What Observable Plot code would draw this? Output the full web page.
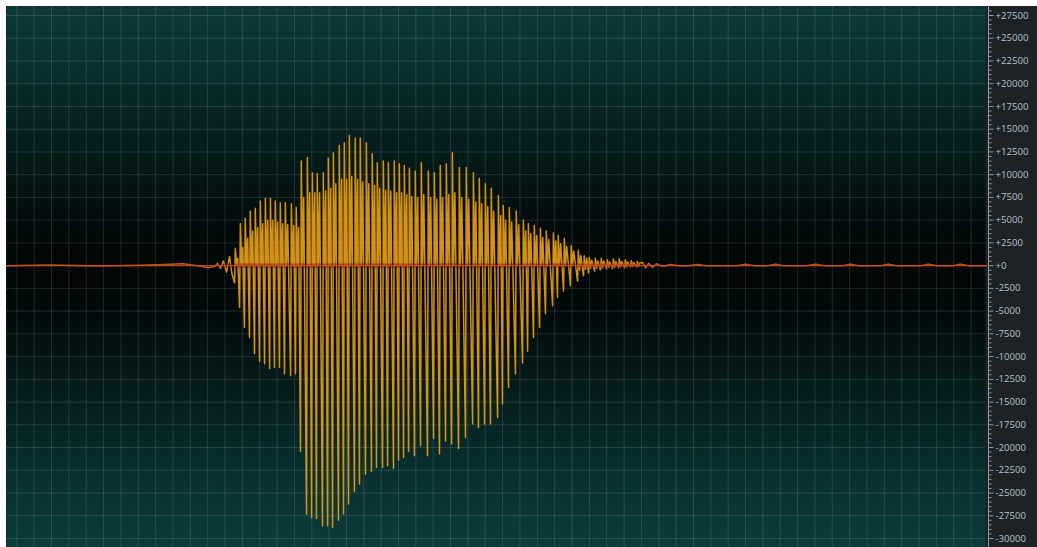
<!DOCTYPE html>
<html>
<head>
<meta charset="utf-8">
<script src="https://cdn.jsdelivr.net/npm/d3@7"></script>
<script src="https://cdn.jsdelivr.net/npm/@observablehq/plot@0.6"></script>
<style>
  html, body { margin: 0; padding: 0; background: #ffffff; }
  #chart { padding: 6px 0 0 6px; width: 1031px; height: 541px; }
  #chart svg { display: block; }
</style>
</head>
<body>
<div id="chart"></div>
<script>
// ---- Data (time in ms, amplitude in sample units) ----
// y-axis tick labels
const yTicks = [27500, 25000, 22500, 20000, 17500, 15000, 12500, 10000, 7500, 5000, 2500, 0,
  -2500, -5000, -7500, -10000, -12500, -15000, -17500, -20000, -22500, -25000, -27500, -30000];

// quiet lead-in before the voiced segment
const leadMs  = [-6, 19.4, 48.2, 71.3, 89.7, 95.5, 101.3, 110.5, 114.0, 115.7, 117.4, 119.1, 120.9, 122.6, 124.0];
const leadAmp = [0, 60, -40, 50, 150, 200, 80, -200, -100, 250, -300, 500, -700, 1000, -900];

// voiced segment: one entry per pitch period
const cycleMs = [
  125.5,128.4,131.2,134.1,137.0,139.9,142.8,145.7,148.5,151.4,
  154.3,157.8,160.6,163.5,167.0,169.9,172.7,176.2,179.1,182.0,
  185.4,188.3,191.2,194.6,197.5,201.0,204.4,207.3,210.8,213.7,
  217.1,220.0,222.9,225.8,229.2,232.7,236.7,240.2,243.6,247.1,
  250.6,254.6,258.6,262.7,266.1,269.6,273.0,277.1,279.9,283.4,
  287.4,291.5,294.4,297.8,301.3,304.7,308.8,311.6,315.1,319.1,
  323.2,326.6,329.5,333.0,336.4,339.9,343.4,346.8,350.3,353.7,357.2];
const troughs = [
  -1900,-4600,-6800,-7900,-9700,-10500,-10800,-11300,-11200,-11200,
  -11900,-12100,-11900,-20400,-27300,-27700,-27800,-28600,-28600,-28800,
  -28000,-27300,-26200,-24800,-24000,-22900,-22600,-22200,-22200,-22000,
  -22300,-21400,-21100,-20400,-20900,-19800,-20900,-19000,-20700,-19300,
  -19600,-20100,-18900,-17400,-17800,-17400,-17400,-16700,-15200,-13400,
  -11900,-10700,-9400,-7900,-6800,-5300,-4400,-3500,-2800,-2200,
  -1700,-1100,-800,-600,-450,-350,-350,-250,-250,-150,-150];
const crests = [
  1900,4600,5200,6000,6300,7100,7400,7400,7100,6900,
  6900,6800,6400,11500,11900,10200,10100,10200,11800,12400,
  13200,13500,14300,14000,14000,13500,12300,11300,11500,11300,
  11500,11200,11000,10700,10400,11300,10400,10200,11000,11200,
  12400,10800,10800,10200,9600,9000,8500,7700,6600,6400,
  6000,5000,4600,4400,4100,3800,3600,3300,3000,2200,
  1700,1100,900,800,800,650,750,750,650,550,450];
// secondary (ringing) peak inside each period
const rings = [
  800,2000,3000,3800,4200,4600,5000,5000,4800,4600,
  4500,4400,4200,7500,8000,8000,8000,8200,8500,9000,
  9500,9500,9800,9500,9200,9000,8800,8500,8300,8200,
  8000,8000,7800,7600,7500,7800,7500,7300,7500,7800,
  8000,7500,7300,7000,6800,6500,6000,5500,5000,4800,
  4500,3800,3500,3300,3100,2900,2700,2400,2100,1600,
  1100,800,600,500,500,400,450,450,400,350,300];
// level the signal falls back to between the two positive peaks
const dips = [
  0,0,0,0,0,0,0,0,0,0,
  0,0,0,0,0,0,0,0,0,0,
  0,0,0,0,0,0,0,0,0,0,
  0,0,0,0,0,0,0,0,0,0,
  0,0,0,0,0,0,0,0,0,0,
  0,0,0,0,0,0,0,0,0,0,
  -500,-400,-300,-300,-250,-200,-200,-150,-150,-100,-100];

// decaying tail and quiet end
const tailMs  = [360.6,362.4,364.1,366.4,368.7,372.2,376.8,382.5,387.1,392.3,397.5,414.8,420.0,425.2,432.7,437.3,441.9,
  455.2,460.3,465.5,475.9,480.5,485.1,497.8,502.4,507.0,520.9,525.5,530.1,539.3,543.9,548.5,558.9];
const tailAmp = [350,-250,250,-200,200,-100,120,-50,0,120,0,0,150,0,0,150,0,
  0,150,0,0,150,0,0,150,0,0,150,0,0,150,0,0];

// ---- Build the waveform rows ----
const rows = [];
leadMs.forEach((t, i) => rows.push({t, v: leadAmp[i]}));
cycleMs.forEach((t, i) => {
  rows.push({t, v: troughs[i]});
  rows.push({t: t + 0.45, v: crests[i]});
  rows.push({t: t + 1.2, v: dips[i]});
  rows.push({t: t + 1.85, v: rings[i]});
});
tailMs.forEach((t, i) => rows.push({t, v: tailAmp[i]}));

const W = 1031, H = 541, MR = 52;
const xDomain = [-5.94, 558.3];
const yDomain = [-30990, 28490];
const minorTicks = d3.range(-30000, 28001, 500).filter(d => d % 2500 !== 0);
const gridTimes = d3.range(0, 559, 10);
const fmt = d => (d >= 0 ? "+" : "-") + Math.abs(d);

const plot = Plot.plot({
  width: W, height: H,
  marginLeft: 0, marginTop: 0, marginBottom: 0, marginRight: MR,
  style: {background: "#1c2225", fontFamily: "'Open Sans', 'DejaVu Sans', sans-serif", overflow: "visible"},
  x: {domain: xDomain, axis: null},
  y: {domain: yDomain, axis: null},
  marks: [
    Plot.frame({fill: "url(#bg)", stroke: null}),
    Plot.gridX(gridTimes, {stroke: "#ffffff", strokeOpacity: 0.12, strokeWidth: 1}),
    Plot.gridY(yTicks, {stroke: "#ffffff", strokeOpacity: 0.12, strokeWidth: 1}),
    Plot.ruleY([0], {stroke: "#b4421a", strokeWidth: 1.3}),
    Plot.line(rows, {x: "t", y: "v", stroke: "url(#wave)", strokeWidth: 1.5, strokeOpacity: 0.92, curve: "linear"}),
    Plot.ruleX([xDomain[1]], {dx: 3, stroke: "#8e989e", strokeWidth: 1}),
    Plot.axisY(minorTicks, {anchor: "right", dx: 3, tickSize: 2.5, text: null, label: null, stroke: "#8e989e"}),
    Plot.axisY(yTicks, {anchor: "right", dx: 3, tickSize: 4.5, tickPadding: 2.5, tickFormat: fmt, label: null,
      fontSize: 9.6, fill: "#b9c3ca", stroke: "#8e989e"})
  ]
});

const y = plot.scale("y");
const svg = d3.select(plot);
const defs = svg.insert("defs", ":first-child");
const bg = defs.append("linearGradient").attr("id", "bg").attr("x1", 0).attr("y1", 0).attr("x2", 0).attr("y2", 1);
[[0, "#0b3a37"], [0.12, "#082f2e"], [0.28, "#041a19"], [0.4, "#020b0b"], [0.48, "#020606"], [0.57, "#020b0b"],
 [0.68, "#041918"], [0.84, "#082d2d"], [1, "#0b3c3c"]]
  .forEach(([o, c]) => bg.append("stop").attr("offset", o).attr("stop-color", c));
const wave = defs.append("linearGradient").attr("id", "wave").attr("gradientUnits", "userSpaceOnUse")
  .attr("x1", 0).attr("x2", 0).attr("y1", y.apply(2200)).attr("y2", y.apply(-2200));
[[0, "#e69c18"], [0.42, "#e69c18"], [0.47, "#c9561c"], [0.53, "#c9561c"], [0.58, "#e69c18"], [1, "#e69c18"]]
  .forEach(([o, c]) => wave.append("stop").attr("offset", o).attr("stop-color", c));
svg.selectAll('g[aria-label="line"], g[aria-label="line"] path').attr("stroke", "url(#wave)");
svg.selectAll('g[aria-label="frame"], g[aria-label="frame"] rect').attr("fill", "url(#bg)");

document.getElementById("chart").appendChild(plot);
</script>
</body>
</html>
